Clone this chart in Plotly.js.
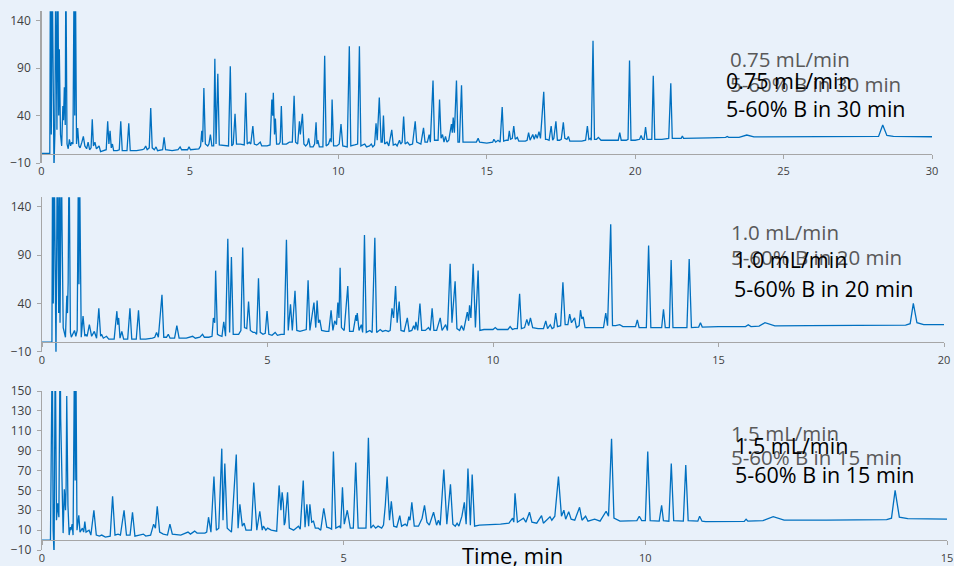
<!DOCTYPE html>
<html lang="en">
<head>
    <meta charset="UTF-8">
    <title>Chromatograms</title>
    <script src="https://cdn.plot.ly/plotly-3.0.1.min.js"></script>
    <style>
        body { margin: 0; background: #e9f1fa; }
        #plot { width: 954px; height: 566px; }
    </style>
</head>

<body>

<div id="plot"></div>

<script>

    // [time (min), signal]
    const run075 = [
        [0,0],[0.28,0],[0.30,200],[0.33,20],[0.36,200],[0.39,30],[0.42,-15],[0.45,20],[0.48,200],[0.52,25],
        [0.55,200],[0.58,40],[0.60,110],[0.64,20],[0.68,8],[0.72,50],[0.74,35],[0.77,70],[0.80,30],[0.82,200],
        [0.86,10],[0.90,5],[0.94,15],[0.98,8],[1.02,12],[1.06,10],[1.10,200],[1.12,40],[1.14,200],[1.18,10],
        [1.22,27],[1.26,8],[1.30,6],[1.36,12],[1.41,18],[1.46,8],[1.52,5],[1.57,12],[1.62,4],[1.67,6],
        [1.71,36],[1.75,8],[1.80,12],[1.85,5],[1.94,8],[1.99,2],[2.10,3],[2.18,4],[2.23,34],[2.27,10],
        [2.31,24],[2.35,6],[2.39,10],[2.43,3],[2.55,3],[2.62,4],[2.67,34],[2.72,3],[2.88,3],[2.94,32],
        [2.99,3],[3.20,3],[3.40,4],[3.46,5],[3.51,8],[3.56,4],[3.63,6],[3.68,48],[3.73,6],[3.80,4],
        [3.86,7],[3.91,3],[4.08,4],[4.13,17],[4.18,4],[4.40,3],[4.60,4],[4.67,7],[4.72,4],[4.92,4],
        [4.97,7],[5.02,4],[5.30,5],[5.36,8],[5.40,24],[5.43,12],[5.47,69],[5.52,10],[5.60,8],[5.64,10],
        [5.69,20],[5.74,8],[5.80,8],[5.84,100],[5.88,10],[5.94,84],[5.99,9],[6.20,8],[6.30,8],[6.36,92],
        [6.41,8],[6.46,10],[6.52,42],[6.57,10],[6.70,10],[6.83,9],[6.88,64],[6.93,10],[7.00,12],[7.05,10],
        [7.12,29],[7.17,10],[7.25,9],[7.30,10],[7.37,12],[7.42,8],[7.60,8],[7.70,9],[7.76,57],[7.79,40],
        [7.81,64],[7.85,20],[7.88,37],[7.92,10],[8.00,10],[8.04,12],[8.08,50],[8.12,10],[8.25,10],[8.35,12],
        [8.45,12],[8.51,61],[8.56,12],[8.63,10],[8.69,34],[8.72,20],[8.79,42],[8.84,10],[8.90,8],[8.96,10],
        [9.00,16],[9.05,7],[9.15,7],[9.20,10],[9.25,33],[9.28,10],[9.31,14],[9.36,7],[9.48,7],[9.54,103],
        [9.59,8],[9.67,10],[9.73,16],[9.76,12],[9.79,57],[9.84,8],[9.95,8],[10.03,10],[10.09,31],[10.15,8],
        [10.30,7],[10.37,113],[10.42,8],[10.55,9],[10.65,10],[10.71,113],[10.76,8],[10.89,10],[10.95,7],[11.05,8],
        [11.11,10],[11.16,7],[11.22,9],[11.27,32],[11.31,14],[11.38,59],[11.44,12],[11.48,12],[11.52,40],[11.56,10],
        [11.64,12],[11.70,8],[11.80,25],[11.85,9],[11.93,10],[11.98,8],[12.06,14],[12.10,10],[12.15,12],[12.20,39],
        [12.25,10],[12.33,12],[12.40,9],[12.50,10],[12.59,34],[12.64,12],[12.71,11],[12.78,10],[12.87,27],[12.92,12],
        [13.00,12],[13.06,20],[13.10,12],[13.19,77],[13.24,14],[13.30,14],[13.36,14],[13.41,57],[13.46,16],[13.51,20],
        [13.56,12],[13.61,18],[13.66,12],[13.72,14],[13.78,26],[13.81,31],[13.84,22],[13.87,38],[13.91,22],[13.98,77],
        [14.03,12],[14.08,12],[14.15,72],[14.20,12],[14.30,12],[14.50,12],[14.65,12],[14.71,16],[14.76,12],[15.00,11],
        [15.20,12],[15.24,15],[15.30,12],[15.38,14],[15.45,12],[15.52,49],[15.57,13],[15.66,14],[15.72,14],[15.76,24],
        [15.80,15],[15.86,16],[15.91,29],[15.96,15],[16.03,17],[16.08,13],[16.30,13],[16.36,14],[16.41,22],[16.46,14],
        [16.55,20],[16.60,15],[16.65,20],[16.70,16],[16.76,23],[16.81,16],[16.92,65],[16.98,15],[17.03,15],[17.10,14],
        [17.17,29],[17.22,14],[17.26,16],[17.33,34],[17.38,14],[17.45,14],[17.51,15],[17.58,33],[17.63,16],[17.70,15],
        [17.75,18],[17.80,13],[17.90,13],[18.20,13],[18.33,14],[18.39,29],[18.44,15],[18.49,16],[18.52,14],[18.58,119],
        [18.63,15],[18.70,15],[18.76,17],[18.85,14],[19.30,14],[19.43,14],[19.48,22],[19.53,14],[19.70,14],[19.76,15],
        [19.81,98],[19.86,14],[20.00,14],[20.15,15],[20.20,19],[20.25,15],[20.30,15],[20.35,28],[20.40,15],[20.50,15],
        [20.56,15],[20.61,82],[20.66,15],[20.90,15],[21.13,16],[21.20,74],[21.25,16],[21.50,16],[21.55,16],[21.59,18.5],
        [21.63,16],[22.50,16.5],[23.05,17],[23.10,18],[23.15,17],[23.50,17],[23.76,19.5],[24.00,17.5],[25.00,17.5],[27.00,17.8],
        [28.20,18],[28.34,30],[28.48,19],[28.70,18],[30.00,17.7]
    ]

    const run10 = [
        [0,0],[0.22,0],[0.235,200],[0.25,40],[0.27,200],[0.31,-15],[0.34,200],[0.37,30],[0.385,200],[0.40,20],
        [0.43,200],[0.445,117],[0.47,15],[0.52,5],[0.55,48],[0.565,30],[0.58,62],[0.60,200],[0.63,10],[0.65,5],
        [0.69,10],[0.72,12],[0.75,6],[0.78,12],[0.81,200],[0.82,60],[0.83,200],[0.87,5],[0.91,27],[0.95,6],
        [0.97,8],[1.00,6],[1.05,18],[1.10,6],[1.16,11],[1.21,4],[1.26,35],[1.30,6],[1.32,8],[1.36,4],
        [1.43,6],[1.48,3],[1.60,3],[1.66,32],[1.68,18],[1.70,25],[1.73,4],[1.77,11],[1.81,3],[1.90,3],
        [1.95,35],[1.99,3],[2.09,3],[2.14,33],[2.18,3],[2.30,3],[2.45,4],[2.50,5],[2.54,10],[2.58,5],
        [2.66,49],[2.70,5],[2.76,5],[2.80,8],[2.84,4],[2.94,4],[2.99,17],[3.04,4],[3.20,4],[3.34,6],
        [3.40,4],[3.50,5],[3.56,8],[3.60,5],[3.70,5],[3.77,6],[3.80,25],[3.83,20],[3.85,74],[3.89,8],
        [3.93,7],[3.99,6],[4.03,21],[4.07,6],[4.12,107],[4.16,10],[4.20,88],[4.24,8],[4.30,8],[4.36,8],
        [4.41,12],[4.45,98],[4.49,15],[4.54,14],[4.58,42],[4.62,12],[4.68,10],[4.72,10],[4.76,8],[4.80,66],
        [4.84,10],[4.90,8],[4.95,9],[4.99,32],[5.03,8],[5.10,7],[5.17,10],[5.22,7],[5.30,8],[5.37,8],
        [5.42,106],[5.46,12],[5.51,39],[5.55,12],[5.61,53],[5.65,12],[5.72,11],[5.80,12],[5.86,13],[5.90,64],
        [5.94,12],[6.03,41],[6.07,15],[6.10,43],[6.13,20],[6.16,23],[6.20,12],[6.30,11],[6.36,11],[6.41,33],
        [6.45,12],[6.49,22],[6.53,18],[6.56,41],[6.585,25],[6.61,77],[6.64,15],[6.70,12],[6.78,58],[6.82,11],
        [6.90,11],[6.96,28],[6.975,22],[6.99,30],[7.03,12],[7.08,18],[7.11,10],[7.15,111],[7.19,10],[7.27,12],
        [7.32,10],[7.38,108],[7.42,10],[7.50,13],[7.55,11],[7.62,12],[7.68,11],[7.72,12],[7.76,35],[7.795,25],
        [7.84,58],[7.875,20],[7.92,42],[7.96,12],[8.03,11],[8.10,25],[8.14,11],[8.20,12],[8.24,17],[8.27,13],
        [8.29,21],[8.33,12],[8.38,40],[8.42,12],[8.50,12],[8.57,15],[8.61,12],[8.65,35],[8.69,12],[8.75,12],
        [8.83,25],[8.87,12],[8.95,18],[8.99,12],[9.05,81],[9.09,20],[9.16,63],[9.20,14],[9.26,12],[9.30,17],
        [9.35,12],[9.43,31],[9.46,22],[9.48,38],[9.51,25],[9.56,81],[9.61,15],[9.67,74],[9.71,12],[9.80,13],
        [10.00,13],[10.05,15],[10.10,13],[10.33,13],[10.38,16],[10.43,13],[10.48,14],[10.54,14],[10.59,50],[10.63,14],
        [10.70,15],[10.75,23.5],[10.79,17],[10.83,25],[10.88,15],[11.00,14],[11.12,14],[11.17,22],[11.21,14],[11.27,18],
        [11.31,14],[11.35,15],[11.39,30],[11.43,16],[11.50,17],[11.55,62],[11.60,18],[11.66,18],[11.70,29],[11.74,20],
        [11.81,25],[11.85,15],[11.91,17],[11.94,33],[11.97,24],[12.00,26],[12.04,15],[12.20,15],[12.45,15],[12.50,30],
        [12.54,17],[12.61,122],[12.65,17],[12.72,17],[12.81,18],[12.88,16],[13.16,16],[13.20,23],[13.24,15],[13.40,15],
        [13.45,100],[13.50,15],[13.74,15],[13.78,34],[13.82,15],[13.91,15],[13.95,85],[13.99,15],[14.30,15],[14.35,86],
        [14.40,15],[14.56,15.5],[14.60,20],[14.64,15.5],[15.00,16],[15.60,16],[15.66,18],[15.72,16],[15.90,16.5],[16.03,20],
        [16.25,16.8],[17.00,17],[19.15,17.5],[19.25,19],[19.32,40],[19.40,20],[19.55,18],[20.00,18]
    ]

    const run15 = [
        [0,0],[0.14,0],[0.17,200],[0.185,10],[0.20,-15],[0.22,200],[0.24,20],[0.26,37],[0.28,23],[0.30,200],
        [0.31,122],[0.33,40],[0.35,7],[0.37,51],[0.39,30],[0.40,55],[0.41,145],[0.43,35],[0.45,5],[0.47,13],
        [0.48,10],[0.50,16],[0.515,5],[0.54,200],[0.55,60],[0.56,200],[0.58,10],[0.61,25],[0.63,8],[0.67,12],
        [0.69,8],[0.71,18.5],[0.73,8],[0.78,10],[0.81,5],[0.86,30],[0.90,5],[0.95,4],[0.99,5],[1.05,3],
        [1.13,4],[1.17,44],[1.21,5],[1.26,6],[1.30,5],[1.36,30],[1.40,5],[1.46,5],[1.50,28],[1.54,4],
        [1.68,6],[1.72,4],[1.80,5],[1.85,16],[1.88,12],[1.91,34],[1.95,8],[2.01,6],[2.08,5],[2.12,16],
        [2.16,6],[2.30,5],[2.42,8],[2.46,6],[2.53,9],[2.57,7],[2.70,7],[2.73,8],[2.76,23],[2.80,8],
        [2.85,64],[2.89,10],[2.93,12],[2.98,92],[3.00,20],[3.03,77],[3.07,12],[3.14,8],[3.22,86],[3.25,12],
        [3.28,36],[3.32,14],[3.35,17],[3.38,10],[3.47,10],[3.51,58],[3.56,10],[3.61,29],[3.65,10],[3.67,14],
        [3.71,10],[3.74,12],[3.80,10],[3.89,9],[3.93,55],[3.96,30],[3.98,48],[4.00,37],[4.015,15],[4.03,18],
        [4.07,48],[4.10,12],[4.17,10],[4.25,14],[4.28,11],[4.33,60],[4.36,13],[4.39,36],[4.42,14],[4.44,36],
        [4.47,18],[4.50,19],[4.53,12],[4.58,12],[4.62,10],[4.67,32],[4.72,13],[4.77,12],[4.80,11],[4.83,89],
        [4.87,12],[4.93,14],[4.95,12],[4.98,53],[5.01,16],[5.06,30],[5.11,12],[5.16,12],[5.20,78],[5.24,12],
        [5.32,12],[5.37,12],[5.41,103],[5.45,12],[5.49,15],[5.53,12],[5.57,14],[5.63,12],[5.66,15],[5.69,35],
        [5.72,64],[5.76,20],[5.79,39],[5.83,14],[5.88,13],[5.93,24.5],[5.96,14],[6.02,16],[6.05,14],[6.08,23.5],
        [6.10,20],[6.13,38],[6.17,14],[6.24,14],[6.30,22],[6.34,35],[6.38,18],[6.42,15],[6.49,28],[6.54,15],
        [6.57,20],[6.60,15],[6.66,71],[6.71,16],[6.77,56],[6.81,16],[6.85,14],[6.88,17],[6.91,14],[6.96,24],
        [7.00,38],[7.03,16],[7.06,72],[7.10,15],[7.13,66],[7.17,14],[7.25,15],[7.47,15.5],[7.60,16],[7.74,17],
        [7.80,22],[7.82,18],[7.84,47],[7.88,18],[7.98,22],[8.02,18],[8.08,28],[8.12,18],[8.20,17],[8.28,24.5],
        [8.31,17],[8.42,23.5],[8.45,20],[8.50,24],[8.56,64],[8.61,24],[8.65,30],[8.68,21],[8.73,28.6],[8.77,21],
        [8.83,20],[8.91,33],[8.95,20],[9.01,24],[9.05,19],[9.16,21],[9.25,19],[9.35,29],[9.39,24],[9.44,102],
        [9.48,22],[9.58,19],[9.80,19],[9.86,19.5],[9.90,24],[9.94,19.5],[10.00,19.5],[10.04,89],[10.08,19.5],[10.23,19],
        [10.27,35],[10.30,19.5],[10.39,19],[10.43,77],[10.47,19.5],[10.63,19],[10.67,75.5],[10.71,19.5],[10.87,19],[10.90,24],
        [10.94,19],[11.00,18.5],[11.64,18.8],[11.67,21],[11.70,19],[11.95,19.5],[12.12,23.5],[12.30,20],[13.00,20],[14.00,20.5],
        [14.08,22],[14.14,50],[14.21,23],[14.35,21.5],[15.00,21]
    ]

    const runs = [run075, run10, run15]
    const runEnd = [30, 20, 15]
    const yTicks = [
        [-10, 40, 90, 140],
        [-10, 40, 90, 140],
        [-10, 10, 30, 50, 70, 90, 110, 130, 150]
    ]
    const flowLabels = ["0.75 mL/min", "1.0 mL/min", "1.5 mL/min"]
    const gradientLabels = ["5-60% B in 30 min", "5-60% B in 20 min", "5-60% B in 15 min"]

    const W = 954, H = 566
    const yRange = [-10, 150]
    // pixel boxes of the three panels: [left, right, top, bottom]
    const boxes = [
        [41.5, 932, 11.3, 163],
        [42, 944, 197.3, 351.7],
        [42, 947, 391, 550]
    ]
    // label anchors [grey x, grey flow y, grey grad y, black x, black flow y, black grad y]
    const labelPos = [
        [728, 59, 84, 724, 80, 108],
        [729, 232, 257, 732, 260, 288],
        [729, 433, 457, 733, 445, 474]
    ]

    const axisGrey = '#a6a6a6'
    const tickFont = {family: 'Open Sans, sans-serif', size: 11, color: '#404040'}

    const data = []
    const layout = {
        width: W,
        height: H,
        margin: {l: 0, r: 0, t: 0, b: 0},
        paper_bgcolor: '#e9f1fa',
        plot_bgcolor: '#e9f1fa',
        showlegend: false,
        annotations: []
    }

    runs.forEach((run, i) => {
        const n = i === 0 ? '' : String(i + 1)
        const b = boxes[i]
        const xDom = [b[0] / W, b[1] / W]
        const yDom = [1 - b[3] / H, 1 - b[2] / H]
        const zeroPos = yDom[0] + (0 - yRange[0]) / (yRange[1] - yRange[0]) * (yDom[1] - yDom[0])

        data.push({
            x: run.map(p => p[0]),
            y: run.map(p => p[1]),
            xaxis: 'x' + n,
            yaxis: 'y' + n,
            type: 'scatter',
            mode: 'lines',
            line: {color: '#0070c0', width: 1.3},
            hoverinfo: 'skip'
        })

        layout['xaxis' + n] = {
            domain: xDom,
            range: [0, runEnd[i]],
            anchor: 'free',
            position: zeroPos,
            showgrid: false,
            zeroline: false,
            showline: true,
            linecolor: axisGrey,
            linewidth: 1.3,
            ticks: 'outside',
            ticklen: 4,
            tickcolor: axisGrey,
            tick0: 0,
            dtick: 5,
            tickfont: tickFont,
            ticklabelstandoff: 3
        }
        layout['yaxis' + n] = {
            domain: yDom,
            range: yRange,
            anchor: 'x' + n,
            showgrid: false,
            zeroline: false,
            showline: true,
            linecolor: axisGrey,
            linewidth: 1.3,
            ticks: 'outside',
            ticklen: 4,
            tickcolor: axisGrey,
            tickvals: yTicks[i],
            tickfont: {family: 'Open Sans, sans-serif', size: 12, color: '#404040'},
            ticklabelstandoff: 3
        }

        const lp = labelPos[i]
        const grey = {family: 'Open Sans, sans-serif', size: 20.5, color: '#595959'}
        const black = {family: 'Open Sans, sans-serif', size: 21.5, color: '#000000'}
        layout.annotations.push(
            {text: flowLabels[i], x: lp[0] / W, y: 1 - lp[1] / H, font: grey},
            {text: gradientLabels[i], x: lp[0] / W, y: 1 - lp[2] / H, font: grey},
            {text: flowLabels[i], x: lp[3] / W, y: 1 - lp[4] / H, font: black},
            {text: gradientLabels[i], x: lp[3] / W, y: 1 - lp[5] / H, font: black}
        )
    })

    layout.annotations.forEach(a => {
        a.xref = 'paper'
        a.yref = 'paper'
        a.xanchor = 'left'
        a.yanchor = 'middle'
        a.showarrow = false
    })

    layout.annotations.push({
        text: 'Time, min',
        xref: 'paper', yref: 'paper',
        x: 512 / W, y: 1 - 555 / H,
        xanchor: 'center', yanchor: 'middle',
        showarrow: false,
        font: {family: 'Open Sans, sans-serif', size: 22, color: '#000000'}
    })

    Plotly.newPlot('plot', data, layout, {displayModeBar: false, staticPlot: true})

</script>
</body>
</html>
